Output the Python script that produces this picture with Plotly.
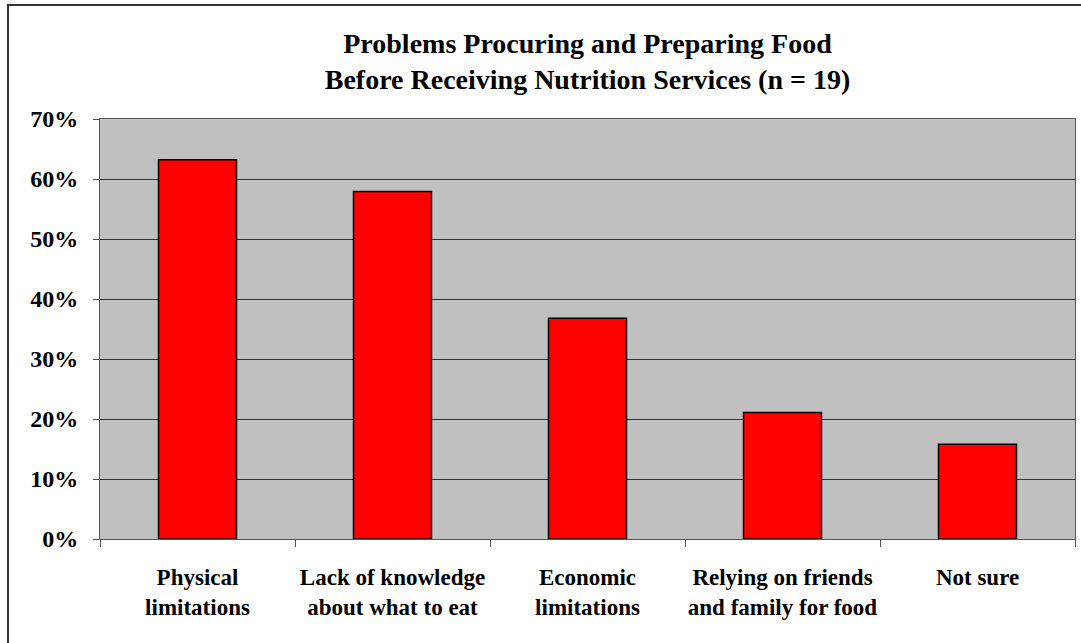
import plotly.graph_objects as go

# Survey responses (n = 19), share of respondents reporting each problem
categories = [
    "Physical<br>limitations",
    "Lack of knowledge<br>about what to eat",
    "Economic<br>limitations",
    "Relying on friends<br>and family for food",
    "Not sure",
]
shares = [0.632, 0.579, 0.368, 0.211, 0.158]
y_ticks = [0, 0.1, 0.2, 0.3, 0.4, 0.5, 0.6, 0.7]
y_tick_labels = ["0%", "10%", "20%", "30%", "40%", "50%", "60%", "70%"]

W, H = 1081, 643
ML, MR, MT, MB = 100, 6, 119, 104
pw, ph = W - ML - MR, H - MT - MB


def px_x(v):
    return (v - ML) / pw


def px_y(v):
    return (H - MB - v) / ph


serif = "'Liberation Serif', 'Times New Roman', Times, serif"

fig = go.Figure(
    go.Bar(
        x=categories,
        y=shares,
        marker=dict(color="#FF0000", line=dict(color="#000000", width=1.5)),
    )
)

fig.update_layout(
    width=W,
    height=H,
    margin=dict(l=ML, r=MR, t=MT, b=MB, autoexpand=False),
    paper_bgcolor="#FFFFFF",
    plot_bgcolor="#C0C0C0",
    bargap=0.6,
    showlegend=False,
    font=dict(family=serif, color="#000000"),
    title=dict(
        text="<b>Problems Procuring and Preparing Food<br>Before Receiving Nutrition Services (n = 19)</b>",
        x=0.5,
        xref="paper",
        xanchor="center",
        y=1 - 53 / H,
        yref="container",
        yanchor="top",
        font=dict(family=serif, size=28, color="#000000"),
    ),
    shapes=[
        dict(
            type="rect", xref="paper", yref="paper",
            x0=px_x(8), x1=px_x(W + 10), y0=px_y(H + 10), y1=px_y(5),
            line=dict(color="#333333", width=2), fillcolor="rgba(0,0,0,0)",
            layer="below",
        )
    ],
)

fig.update_xaxes(
    tickson="boundaries",
    ticks="outside",
    ticklen=7,
    tickcolor="#555555",
    showline=True,
    linecolor="#555555",
    linewidth=1,
    mirror=True,
    showgrid=False,
    tickangle=0,
    automargin=False,
    tickfont=dict(family=serif, size=23, color="#000000"),
    ticklabelstandoff=17,
)
fig.update_xaxes(ticktext=[f"<b>{c}</b>" for c in categories], tickvals=categories)

fig.update_yaxes(
    range=[0, 0.7],
    tickvals=y_ticks,
    ticktext=[f"<b>{t}</b>" for t in y_tick_labels],
    ticks="outside",
    ticklen=6,
    tickcolor="#555555",
    showline=True,
    linecolor="#555555",
    linewidth=1,
    mirror=True,
    showgrid=True,
    gridcolor="#333333",
    gridwidth=1,
    zeroline=False,
    automargin=False,
    tickfont=dict(family=serif, size=24, color="#000000"),
    ticklabelstandoff=10,
)

fig.write_html("out.html")
